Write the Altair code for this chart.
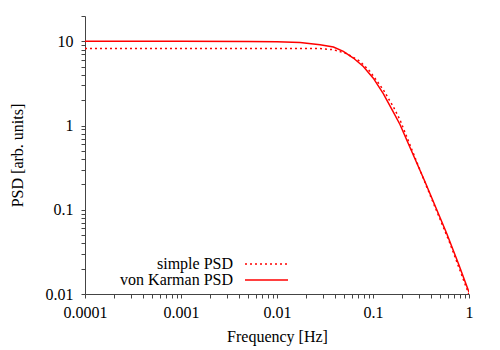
import altair as alt
import pandas as pd

# Series names
series_names = ["simple PSD", "von Karman PSD"]

# simple PSD
simple_f = [0.0001, 0.001, 0.01, 0.0281, 0.0387, 0.0532, 0.0733, 0.0931, 0.128, 0.1625, 0.191, 0.362, 0.634, 1.0]
simple_s = [8.25, 8.25, 8.25, 8.2, 7.97, 7.14, 5.78, 4.39, 2.66, 1.68, 1.17, 0.188, 0.0398, 0.0098]

# von Karman PSD
vk_f = [0.0001, 0.001, 0.005, 0.01, 0.0174, 0.0281, 0.0387, 0.0491, 0.0624, 0.0793, 0.1007, 0.128,
        0.1625, 0.191, 0.348, 0.586, 0.775, 1.0]
vk_s = [10.0, 10.0, 9.98, 9.92, 9.7, 9.14, 8.58, 7.6, 6.34, 5.04, 3.65, 2.4,
        1.45, 1.03, 0.215, 0.0524, 0.023, 0.0105]

# Axis ticks
x_major = [0.0001, 0.001, 0.01, 0.1, 1]
x_labels = ["0.0001", "0.001", "0.01", "0.1", "1"]
y_major = [0.01, 0.1, 1, 10]
y_labels = ["0.01", "0.1", "1", "10"]

x_ticks = [m * k for m in x_major[:-1] for k in range(1, 10)] + [1]
y_ticks = [m * k for m in y_major[:-1] for k in range(1, 10)] + [10, 20]


def label_expr(vals, labels):
    expr = "''"
    for v, l in zip(reversed(vals), reversed(labels)):
        expr = f"abs(datum.value - {v}) < {v}*1e-6 ? '{l}' : ({expr})"
    return expr


df = pd.concat([
    pd.DataFrame({"f": simple_f, "s": simple_s, "series": series_names[0]}),
    pd.DataFrame({"f": vk_f, "s": vk_s, "series": series_names[1]}),
])

FONT = "Liberation Serif"
RED = "#ff0000"

x_enc = alt.X("f:Q", scale=alt.Scale(type="log", domain=[0.0001, 1], nice=False),
              axis=alt.Axis(values=x_ticks, labelExpr=label_expr(x_major, x_labels),
                            title="Frequency [Hz]", grid=False, tickSize=4,
                            labelPadding=6, titlePadding=8, labelFlush=False))
y_enc = alt.Y("s:Q", scale=alt.Scale(type="log", domain=[0.01, 20], nice=False),
              axis=alt.Axis(values=y_ticks, labelExpr=label_expr(y_major, y_labels),
                            title="PSD [arb. units]", grid=False, tickSize=4,
                            labelPadding=8, titlePadding=20, labelFlush=False))

simple_line = alt.Chart(df[df.series == series_names[0]]).mark_line(
    color=RED, strokeWidth=1.5, strokeDash=[2, 3], clip=True
).encode(x=x_enc, y=y_enc)

vk_line = alt.Chart(df[df.series == series_names[1]]).mark_line(
    color=RED, strokeWidth=1.5, clip=True
).encode(x=x_enc, y=y_enc)

leg_text_simple = alt.Chart(pd.DataFrame({"name": [series_names[0]]})).mark_text(
    align="right", baseline="middle", font=FONT, fontSize=16, color="black"
).encode(text="name:N", x=alt.value(148), y=alt.value(248))
leg_text_vk = alt.Chart(pd.DataFrame({"name": [series_names[1]]})).mark_text(
    align="right", baseline="middle", font=FONT, fontSize=16, color="black"
).encode(text="name:N", x=alt.value(148), y=alt.value(264))

leg_rule_simple = alt.Chart(pd.DataFrame({"a": [0]})).mark_rule(
    color=RED, strokeWidth=1.5, strokeDash=[2, 3]
).encode(x=alt.value(160), x2=alt.value(203), y=alt.value(248))
leg_rule_vk = alt.Chart(pd.DataFrame({"a": [0]})).mark_rule(
    color=RED, strokeWidth=1.5
).encode(x=alt.value(160), x2=alt.value(203), y=alt.value(264))

chart = alt.layer(
    simple_line, vk_line, leg_text_simple, leg_text_vk, leg_rule_simple, leg_rule_vk
).properties(
    width=384, height=278,
    autosize=alt.AutoSizeParams(type="none"),
    padding={"left": 77, "top": 8, "right": 23, "bottom": 56},
).configure_view(stroke=None).configure_axis(
    labelFont=FONT, titleFont=FONT, labelFontSize=16, titleFontSize=16,
    titleFontWeight="normal", labelColor="black", titleColor="black",
    domainColor="#444444", tickColor="#444444", domainWidth=1, tickWidth=1,
)

chart.save("out.html", embed_options={"renderer": "svg", "actions": False})
